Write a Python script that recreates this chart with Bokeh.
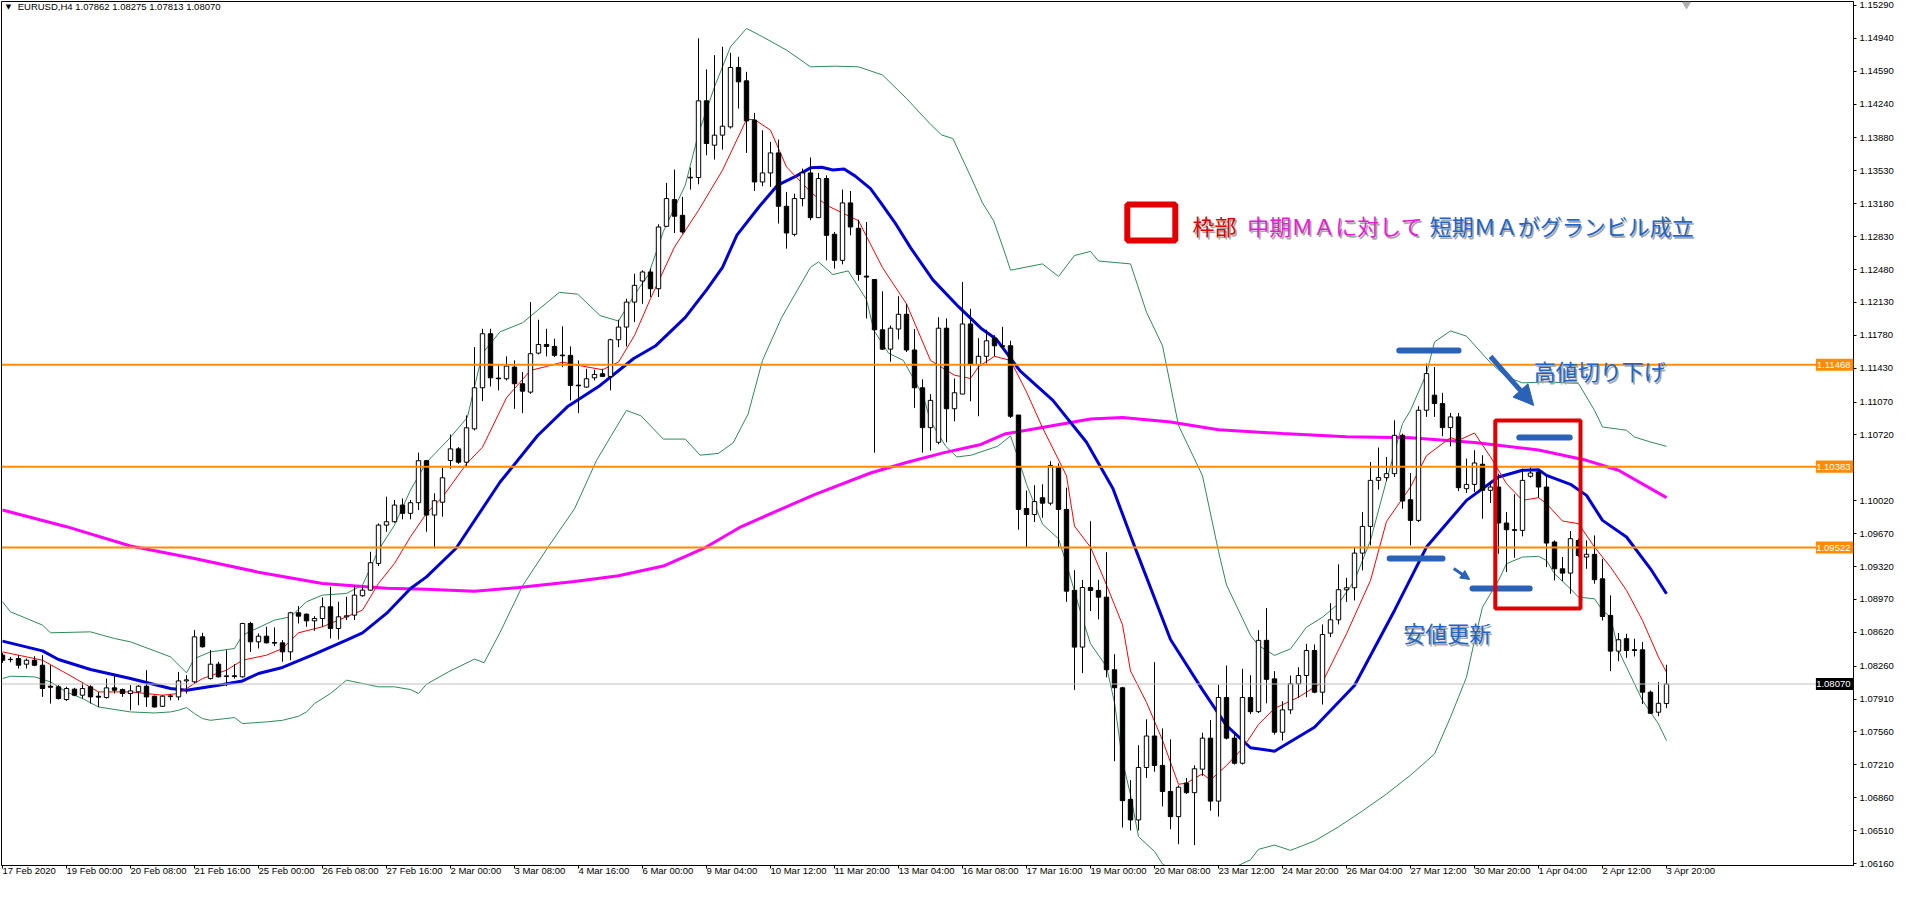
from bokeh.plotting import figure
from bokeh.models import (Range1d, FixedTicker, NumeralTickFormatter, Label, Span,
                          BoxAnnotation, Arrow, NormalHead, ColumnDataSource)
from bokeh.embed import file_html
from bokeh.resources import INLINE

# ---------------- DATA ----------------
opens = [1.08377,1.08330,1.08341,1.08281,1.08323,1.08270,1.08047,1.08040,1.07905,1.08015,
         1.07951,1.08040,1.07940,1.07926,1.08029,1.08011,1.07969,1.07987,1.08047,1.07940,
         1.07833,1.07936,1.07933,1.08103,1.08093,1.08572,1.08128,1.08281,1.08150,1.08157,
         1.08146,1.08714,1.08519,1.08579,1.08512,1.08508,1.08412,1.08828,1.08813,1.08742,
         1.08767,1.08892,1.08661,1.08785,1.08803,1.09009,1.09069,1.09353,1.09761,1.09797,
         1.09974,1.09886,1.09999,1.10446,1.09868,1.10004,1.10448,1.10572,1.10430,1.10785,
         1.11222,1.11797,1.11325,1.11318,1.11442,1.11265,1.11176,1.11591,1.11683,1.11662,
         1.11570,1.11567,1.11250,1.11229,1.11328,1.11371,1.11343,1.11733,1.11868,1.12134,
         1.12358,1.12454,1.12276,1.12940,1.13224,1.13057,1.13455,1.13459,1.14275,1.13803,
         1.13910,1.13998,1.14630,1.14488,1.14069,1.13412,1.13508,1.13721,1.13153,1.12855,
         1.13235,1.13508,1.13032,1.13448,1.12855,1.12578,1.13189,1.12919,1.12410,1.12374,
         1.11839,1.11633,1.11847,1.12004,1.11624,1.11222,1.10798,1.10642,1.11856,1.10999,
         1.11155,1.11901,1.11468,1.11557,1.11749,1.11669,1.11669,1.10932,1.09937,1.09874,
         1.10052,1.09994,1.10383,1.09928,1.09067,1.08463,1.09097,1.09066,1.08994,1.08222,
         1.08030,1.06842,1.06624,1.07182,1.07517,1.07204,1.06927,1.06659,1.07016,1.06914,
         1.07164,1.07494,1.06824,1.07927,1.07494,1.07227,1.07927,1.07776,1.08535,1.08125,
         1.07557,1.07795,1.08072,1.08160,1.08427,1.07983,1.08611,1.08753,1.09073,1.09094,
         1.09463,1.09747,1.10237,1.10266,1.10308,1.10716,1.10031,1.09811,1.10983,1.11143,
         1.11054,1.10798,1.10912,1.10148,1.10194,1.10408,1.10131,1.10166,1.09783,1.09712,
         1.09705,1.10280,1.10326,1.10166,1.09581,1.09296,1.09250,1.09598,1.09421,1.09450,
         1.09190,1.08800,1.08420,1.08552,1.08435,1.08434,1.07983,1.07770,1.07862]
highs = [1.08402,1.08359,1.08377,1.08341,1.08366,1.08377,1.08270,1.08057,1.08040,1.08029,
         1.08082,1.08057,1.07986,1.08128,1.08164,1.08022,1.08058,1.08058,1.08217,1.07947,
         1.07951,1.07962,1.08199,1.08164,1.08643,1.08615,1.08430,1.08306,1.08430,1.08281,
         1.08721,1.08732,1.08607,1.08679,1.08672,1.08537,1.08838,1.08899,1.08820,1.08792,
         1.08991,1.09104,1.08945,1.08998,1.09122,1.09112,1.09477,1.09779,1.10063,1.10028,
         1.10045,1.10028,1.10532,1.10454,1.10099,1.10370,1.10725,1.10590,1.10928,1.11655,
         1.11850,1.11850,1.11460,1.11556,1.11513,1.11389,1.12134,1.11946,1.11850,1.11744,
         1.11875,1.11662,1.11513,1.11424,1.11414,1.11424,1.11744,1.11946,1.12170,1.12436,
         1.12472,1.12489,1.12962,1.13402,1.13544,1.13253,1.13565,1.14939,1.14609,1.14761,
         1.14850,1.14786,1.14744,1.14584,1.14147,1.13962,1.13838,1.13863,1.13306,1.13288,
         1.13554,1.13672,1.13508,1.13483,1.12880,1.13331,1.13316,1.13010,1.12986,1.12380,
         1.12249,1.11883,1.12196,1.12115,1.11847,1.11312,1.11155,1.11973,1.11959,1.11321,
         1.12348,1.12062,1.11749,1.11839,1.11781,1.11870,1.11722,1.10932,1.10128,1.10186,
         1.10195,1.10441,1.10418,1.10159,1.09281,1.09178,1.09803,1.09178,1.09472,1.08387,
         1.08040,1.07047,1.07419,1.07695,1.08302,1.07597,1.07481,1.06990,1.07070,1.07204,
         1.07552,1.07686,1.08061,1.08267,1.07552,1.08231,1.08164,1.08642,1.08878,1.08207,
         1.07887,1.08160,1.08249,1.08498,1.08491,1.08704,1.08931,1.09343,1.09200,1.09527,
         1.09900,1.10433,1.10586,1.10486,1.10876,1.10734,1.10315,1.11026,1.11480,1.11444,
         1.11168,1.10954,1.10954,1.10468,1.10557,1.10504,1.10220,1.10308,1.09900,1.10090,
         1.10362,1.10379,1.10344,1.10280,1.09598,1.09421,1.09698,1.09616,1.09598,1.09651,
         1.09403,1.09013,1.08612,1.08605,1.08552,1.08516,1.08001,1.08090,1.08275]
lows = [1.08295,1.08302,1.08235,1.08235,1.08260,1.07933,1.07862,1.07905,1.07890,1.07940,
        1.07915,1.07862,1.07826,1.07915,1.07969,1.07933,1.07791,1.07844,1.07826,1.07819,
        1.07826,1.07897,1.07897,1.07969,1.08075,1.08458,1.08118,1.08140,1.08047,1.08128,
        1.08139,1.08412,1.08448,1.08501,1.08473,1.08306,1.08323,1.08714,1.08679,1.08636,
        1.08679,1.08554,1.08544,1.08750,1.08750,1.08998,1.09062,1.09325,1.09690,1.09786,
        1.09822,1.09822,1.09921,1.09690,1.09513,1.09850,1.10360,1.10413,1.10377,1.10768,
        1.11080,1.11236,1.11194,1.11300,1.10998,1.10952,1.11158,1.11577,1.11556,1.11549,
        1.11442,1.11087,1.10952,1.11222,1.11300,1.11336,1.11194,1.11655,1.11662,1.11921,
        1.12116,1.12188,1.12188,1.12933,1.12869,1.12862,1.13331,1.13387,1.13696,1.13650,
        1.13757,1.13980,1.14193,1.13721,1.13316,1.13366,1.13359,1.12969,1.12702,1.12834,
        1.13153,1.13004,1.13032,1.12578,1.12489,1.12535,1.12844,1.12361,1.11959,1.10531,
        1.11624,1.11499,1.11736,1.11602,1.11008,1.10531,1.10553,1.10620,1.10642,1.10865,
        1.11155,1.11079,1.10919,1.11481,1.11557,1.11646,1.10901,1.09713,1.09526,1.09794,
        1.09839,1.09972,1.09526,1.08945,1.08008,1.08186,1.08847,1.08758,1.08142,1.07249,
        1.06543,1.06512,1.06512,1.07071,1.07137,1.06767,1.06525,1.06365,1.06900,1.06356,
        1.07093,1.06722,1.06659,1.07480,1.07213,1.07213,1.07749,1.07762,1.07865,1.07532,
        1.07468,1.07752,1.07923,1.07930,1.07972,1.07852,1.08569,1.08704,1.08944,1.08959,
        1.09279,1.09545,1.10138,1.10231,1.10273,1.09935,1.09545,1.09793,1.10912,1.10912,
        1.10706,1.10599,1.10124,1.10102,1.10113,1.09829,1.09996,1.09456,1.09261,1.09414,
        1.09641,1.10266,1.10053,1.09314,1.09172,1.09165,1.09030,1.09421,1.09296,1.09137,
        1.08746,1.08207,1.08313,1.08349,1.08363,1.07858,1.07752,1.07727,1.07813]
closes = [1.08323,1.08333,1.08270,1.08323,1.08270,1.08022,1.08036,1.07915,1.08022,1.07951,
          1.08022,1.07933,1.07930,1.08029,1.08004,1.07969,1.07997,1.08047,1.07933,1.07826,
          1.07940,1.07944,1.08103,1.08114,1.08572,1.08466,1.08281,1.08146,1.08157,1.08150,
          1.08714,1.08519,1.08579,1.08508,1.08505,1.08412,1.08828,1.08792,1.08742,1.08767,
          1.08892,1.08661,1.08785,1.08796,1.09016,1.09069,1.09360,1.09761,1.09797,1.09974,
          1.09886,1.09999,1.10446,1.09868,1.10020,1.10264,1.10572,1.10430,1.10796,1.11222,
          1.11797,1.11328,1.11318,1.11453,1.11265,1.11186,1.11584,1.11683,1.11662,1.11567,
          1.11563,1.11247,1.11243,1.11318,1.11364,1.11343,1.11733,1.11868,1.12134,1.12312,
          1.12454,1.12276,1.12933,1.13235,1.13047,1.12880,1.13462,1.14275,1.13821,1.13910,
          1.14005,1.14630,1.14477,1.14062,1.13412,1.13508,1.13721,1.13153,1.12869,1.13235,
          1.13508,1.13032,1.13448,1.12844,1.12578,1.13189,1.12933,1.12428,1.12400,1.11839,
          1.11633,1.11856,1.12004,1.11624,1.11222,1.10798,1.11088,1.11856,1.10999,1.11169,
          1.11901,1.11468,1.11557,1.11722,1.11669,1.11660,1.10919,1.09928,1.09874,1.10011,
          1.09994,1.10396,1.09928,1.09058,1.08463,1.09097,1.09066,1.08994,1.08222,1.08030,
          1.06829,1.06624,1.07182,1.07517,1.07204,1.06927,1.06659,1.06972,1.06914,1.07168,
          1.07494,1.06824,1.07927,1.07494,1.07227,1.07927,1.07776,1.08535,1.08120,1.07557,
          1.07795,1.08072,1.08160,1.08427,1.07983,1.08597,1.08753,1.09073,1.09094,1.09463,
          1.09747,1.10237,1.10266,1.10308,1.10716,1.10017,1.09811,1.10983,1.11373,1.11054,
          1.10798,1.10912,1.10159,1.10194,1.10422,1.10131,1.10166,1.09783,1.09712,1.09705,
          1.10237,1.10315,1.10166,1.09570,1.09296,1.09250,1.09616,1.09438,1.09450,1.09180,
          1.08789,1.08420,1.08541,1.08427,1.08427,1.07983,1.07759,1.07865,1.08070]

# short MA (red)
red_x = [0,3,5,8,12,16,20,22,25,28,30,33,35,37,40,43,45,47,49,51,53,55,58,60,63,66,68,70,72,75,
         77,79,81,84,87,90,93,94,96,98,101,103,107,110,113,116,119,121,122,124,126,128,130,133,134,
         136,138,140,141,143,145,147,148,150,151,153,155,157,159,162,165,168,171,173,176,178,181,182,
         184,186,188,190,192,193,195,197,199,201,203,205,207,208]
red_y = [1.08412,1.08359,1.08323,1.08182,1.07986,1.07986,1.07951,1.07969,1.08128,1.08217,1.08323,
         1.08377,1.08448,1.08615,1.08679,1.08785,1.08856,1.09140,1.09353,1.09637,1.09886,1.10060,
         1.10413,1.10590,1.11116,1.11407,1.11449,1.11495,1.11460,1.11414,1.11495,1.11779,1.12170,
         1.12720,1.13110,1.13537,1.14076,1.14076,1.13963,1.13572,1.13306,1.13164,1.13000,1.12500,
         1.12115,1.11513,1.11356,1.11321,1.11446,1.11557,1.11513,1.11178,1.10798,1.10285,1.09749,
         1.09526,1.09124,1.08700,1.08209,1.07874,1.07472,1.07003,1.07016,1.07115,1.07048,1.07204,
         1.07383,1.07640,1.07810,1.07930,1.08090,1.08604,1.09172,1.09800,1.10166,1.10500,1.10692,
         1.10663,1.10741,1.10486,1.10202,1.10024,1.10053,1.09989,1.09804,1.09776,1.09527,1.09314,
         1.09066,1.08746,1.08356,1.08196]

# middle MA (blue)
blue_x = [0,5,7,11,16,21,23,27,30,32,35,39,43,45,48,51,53,56.7,62.2,66.9,70.6,74.7,77.5,78.9,81.6,
          85.35,88.1,90,91.8,94.6,96.9,99.2,101,102.4,103.8,105.2,106.6,108.5,109.8,111.7,113.5,
          116.3,119.5,122.3,124.2,127.2,131.3,135.5,138.8,141.75,146,150,153,156,159,164,169,174,
          178,183,187,190,192,193,196,198,200,203,206,208]
blue_y = [1.08526,1.08423,1.08331,1.08224,1.08128,1.08022,1.08004,1.08057,1.08103,1.08182,1.08246,
          1.08387,1.08537,1.08615,1.08821,1.09087,1.09210,1.09515,1.10219,1.10714,1.11019,1.11247,
          1.11438,1.11533,1.11666,1.11971,1.12275,1.12504,1.12846,1.13151,1.13379,1.13474,1.13562,
          1.13569,1.13539,1.13550,1.13474,1.13341,1.13189,1.12960,1.12713,1.12370,1.12085,1.11856,
          1.11742,1.11401,1.11088,1.10642,1.10151,1.09481,1.08543,1.08008,1.07628,1.07392,1.07355,
          1.07610,1.08054,1.08853,1.09527,1.10024,1.10273,1.10344,1.10351,1.10290,1.10195,1.10077,
          1.09811,1.09634,1.09296,1.09030]

# long MA (magenta)
mag_x = [0,8,16,24,32,40,48,53,59,64.5,71.5,77,82.6,87.7,92.3,96.9,101.5,108.5,113.1,117.7,122.3,
         125.4,128,136,140,146,152,160,168,176,184,192,198,202,208]
mag_y = [1.09921,1.09744,1.09538,1.09406,1.09260,1.09140,1.09090,1.09077,1.09058,1.09096,1.09161,
         1.09222,1.09325,1.09515,1.09743,1.09915,1.10086,1.10315,1.10429,1.10532,1.10619,1.10733,
         1.10770,1.10890,1.10905,1.10857,1.10776,1.10735,1.10700,1.10690,1.10640,1.10560,1.10450,
         1.10344,1.10053]

# Bollinger upper / lower (green)
bbu_x = [0,1,5,6,11,14,16,21,23,24,26,29,30,34,36,38,40,43,45,47,49,51,53,55.8,58.1,60,62.2,65,
         66.9,69.6,71.9,74.7,77,78.9,80.75,82.6,85.35,87,89,91,93,95,98,101,104,107,110,113,116,
         117.4,118.8,121.1,122.5,123.9,125.3,126,130,132,134,136,137,141,143,145,147,150,152,153,
         156,157,159,161,163,165,167,169,171,173,175,176,178,179,181,183,186,188,190,193,197,199,
         200,203,204,206,208]
bbu_y = [1.08945,1.08838,1.08697,1.08615,1.08625,1.08554,1.08519,1.08359,1.08189,1.08341,1.08412,
         1.08448,1.08590,1.08750,1.08785,1.08945,1.09016,1.09034,1.09122,1.09495,1.09761,1.10134,
         1.10429,1.10676,1.10905,1.11590,1.11818,1.11913,1.12047,1.12237,1.12218,1.11990,1.11932,
         1.12199,1.12427,1.12884,1.13379,1.13927,1.14424,1.14850,1.15045,1.14957,1.14815,1.14637,
         1.14644,1.14637,1.14550,1.14300,1.14026,1.13912,1.13874,1.13455,1.13189,1.12998,1.12656,
         1.12473,1.12540,1.12406,1.12629,1.12673,1.12571,1.12540,1.12026,1.11669,1.10821,1.10285,
         1.09481,1.09124,1.08588,1.08480,1.08374,1.08444,1.08675,1.08781,1.08924,1.09172,1.09598,
         1.10237,1.10840,1.10982,1.11373,1.11710,1.11827,1.11771,1.11487,1.11338,1.11274,1.11285,
         1.11267,1.10982,1.10805,1.10770,1.10698,1.10645,1.10599]
bbl_x = [0,1,4,6,8,10,12,16,19,21,22,23,24,25,26,29,30,33,35,37,38,39,41,43,45,47,49,51,52,53,
         55.8,59,60.2,62.2,65,68.25,71.5,74.25,76.1,78,79.8,82.6,85.35,87.2,89.5,91.35,93.2,95,97.4,
         101,102,103.8,105.7,108,108.9,110.75,112.6,115.1,116,117.9,119.3,121.1,124.4,126,127,128,
         130,132,133,135,136,138,139,140,141,142,144,145,147,150,153,156,157,159,161,164,167,170,
         173,176,178,179,181,183,184,185,187,188,190,192,193,194,196,197,199,200,201,202,203,205,
         207,208]
bbl_y = [1.08128,1.08153,1.08146,1.08093,1.07986,1.07915,1.07826,1.07773,1.07762,1.07773,1.07791,
         1.07819,1.07755,1.07702,1.07684,1.07713,1.07649,1.07667,1.07684,1.07727,1.07773,1.07862,
         1.07969,1.08111,1.08075,1.08040,1.08040,1.08011,1.07969,1.08068,1.08202,1.08335,1.08297,
         1.08620,1.09115,1.09534,1.09934,1.10448,1.10714,1.10981,1.10924,1.10676,1.10676,1.10505,
         1.10524,1.10638,1.10943,1.11514,1.11971,1.12504,1.12561,1.12427,1.12465,1.12161,1.11837,
         1.11590,1.11514,1.11133,1.10867,1.10600,1.10486,1.10505,1.10600,1.10709,1.10463,1.10195,
         1.09771,1.09615,1.09347,1.08767,1.08499,1.08254,1.07874,1.07249,1.06892,1.06446,1.06289,
         1.06155,1.06050,1.06000,1.06080,1.06200,1.06311,1.06356,1.06300,1.06400,1.06550,1.06720,
         1.06900,1.07100,1.07250,1.07326,1.07717,1.08143,1.08533,1.08888,1.09172,1.09350,1.09421,
         1.09428,1.09385,1.09243,1.09083,1.08994,1.08977,1.08853,1.08781,1.08427,1.08249,1.07894,
         1.07645,1.07468]

# horizontal levels and axis labels
levels = [1.11468, 1.10383, 1.09522]
bid = 1.08070
yticks = [1.15290,1.14940,1.14590,1.14240,1.13880,1.13530,1.13180,1.12830,1.12480,1.12130,
          1.11780,1.11430,1.11070,1.10720,1.10020,1.09670,1.09320,1.08970,1.08620,
          1.08260,1.07910,1.07560,1.07210,1.06860,1.06510,1.06160]
xtick_labels = ["17 Feb 2020","19 Feb 00:00","20 Feb 08:00","21 Feb 16:00","25 Feb 00:00",
                "26 Feb 08:00","27 Feb 16:00","2 Mar 00:00","3 Mar 08:00","4 Mar 16:00",
                "6 Mar 00:00","9 Mar 04:00","10 Mar 12:00","11 Mar 20:00","13 Mar 04:00",
                "16 Mar 08:00","17 Mar 16:00","19 Mar 00:00","20 Mar 08:00","23 Mar 12:00",
                "24 Mar 20:00","26 Mar 04:00","27 Mar 12:00","30 Mar 20:00","1 Apr 04:00",
                "2 Apr 12:00","3 Apr 20:00"]
title_text = "EURUSD,H4  1.07862 1.08275 1.07813 1.08070"

# ---------------- FIGURE ----------------
JP = "Noto Sans CJK JP"
AX = "Liberation Sans"
YR = (1.06139, 1.15332)
XR = (-0.125, 231.375)

p = figure(frame_width=1852, frame_height=864, x_range=Range1d(*XR), y_range=Range1d(*YR),
           output_backend="svg", toolbar_location=None, tools="", y_axis_location="right",
           min_border_left=1, min_border_top=1, min_border_right=0, min_border_bottom=0,
           background_fill_color="white", border_fill_color="white")
p.grid.visible = False
p.outline_line_color = "black"
p.outline_line_width = 1

p.yaxis.ticker = FixedTicker(ticks=yticks)
p.yaxis.formatter = NumeralTickFormatter(format="0.00000")
xt = list(range(0, 8 * len(xtick_labels), 8))
p.xaxis.ticker = FixedTicker(ticks=xt)
p.xaxis.major_label_overrides = {t: s for t, s in zip(xt, xtick_labels)}
for ax in (p.xaxis[0], p.yaxis[0]):
    ax.axis_line_color = "black"
    ax.major_tick_line_color = "black"
    ax.major_tick_out = 3
    ax.major_tick_in = 0
    ax.minor_tick_line_color = None
    ax.major_label_text_font = AX
    ax.major_label_text_font_size = "9.5px"
    ax.major_label_text_color = "black"
    ax.major_label_standoff = 3
p.xaxis.major_label_orientation = -0.0001
p.xaxis.major_label_standoff = 2

for lv in levels:
    p.add_layout(Span(location=lv, dimension="width", line_color="#ff8c00", line_width=2))
p.add_layout(Span(location=bid, dimension="width", line_color="#c0c0c0", line_width=1))

p.line(bbu_x, bbu_y, line_color="#2e8b57", line_width=1)
p.line(bbl_x, bbl_y, line_color="#2e8b57", line_width=1)
p.line(mag_x, mag_y, line_color="#ff00ff", line_width=3)
p.line(blue_x, blue_y, line_color="#0000d8", line_width=3)
p.line(red_x, red_y, line_color="#ff0000", line_width=1)

n = len(opens)
idx = list(range(n))
top = [max(o, c) for o, c in zip(opens, closes)]
bot = [min(o, c) for o, c in zip(opens, closes)]
fill = ["white" if c >= o else "black" for o, c in zip(opens, closes)]
src = ColumnDataSource(dict(x=idx, o=opens, h=highs, l=lows, c=closes, top=top, bot=bot, fill=fill))
p.segment(x0="x", y0="l", x1="x", y1="h", source=src, line_color="black", line_width=1)
p.vbar(x="x", top="top", bottom="bot", width=0.55, source=src, fill_color="fill",
       line_color="black", line_width=1)

# price tags at the right edge of the chart area
TAG_W = 4.7     # in bars
TAG_H = 0.00064 # half height in price
for lv, col in [(levels[0], "#ff8c00"), (levels[1], "#ff8c00"), (levels[2], "#ff8c00"), (bid, "black")]:
    p.add_layout(BoxAnnotation(left=XR[1] - TAG_W, right=XR[1], bottom=lv - TAG_H, top=lv + TAG_H,
                               fill_color=col, fill_alpha=1, line_alpha=0))
    p.add_layout(Label(x=XR[1], y=lv, text=f"{lv:.5f}", x_offset=-3, text_align="right",
                       text_baseline="middle", text_color="white", text_font=AX,
                       text_font_size="9.5px"))

p.add_layout(Label(x=0.4, y=YR[1], y_offset=-5, text="\u25bc", text_baseline="middle",
                   text_font="DejaVu Sans", text_font_size="7px", text_color="black"))
p.add_layout(Label(x=1.9, y=YR[1], y_offset=-5, text=title_text, text_baseline="middle",
                   text_font=AX, text_font_size="9.5px", text_color="black"))
p.scatter([210.5], [YR[1] - 0.0003], marker="inverted_triangle", size=8,
          fill_color="#b0b0b0", line_color="#b0b0b0")

# legend-style box
p.add_layout(BoxAnnotation(left=140.9, right=146.9, bottom=1.12768, top=1.13151,
                           fill_color="#9a9a9a", fill_alpha=0.7, line_alpha=0))
p.add_layout(BoxAnnotation(left=140.6, right=146.6, bottom=1.12790, top=1.13173,
                           fill_color="white", fill_alpha=1, line_color="#e00000",
                           line_alpha=1, line_width=6))

def jtext(x, y, t, color, size="22px"):
    p.add_layout(Label(x=x, y=y, text=t, x_offset=1.5, y_offset=-1.5, text_baseline="middle",
                       text_font=JP, text_font_size=size, text_color="#a8a8a8"))
    p.add_layout(Label(x=x, y=y, text=t, text_baseline="middle", text_font=JP,
                       text_font_size=size, text_color=color))

BLUE_T = "#1f64c8"
jtext(148.75, 1.12949, "枠部", "#e00000")
jtext(155.6, 1.12949, "中期ＭＡに対して", "#e81ad8")
jtext(178.4, 1.12949, "短期ＭＡがグランビル成立", BLUE_T)
jtext(191.4, 1.11406, "高値切り下げ", BLUE_T)
jtext(175.1, 1.08619, "安値更新", BLUE_T)

# red frame
p.add_layout(BoxAnnotation(left=186.6, right=197.25, bottom=1.08874, top=1.10874,
                           fill_alpha=0, line_color="#e00000", line_alpha=1, line_width=4))

MARK = "#2a62b8"
p.segment(x0=[174.6, 189.6, 173.4, 183.75], y0=[1.11619, 1.10694, 1.09406, 1.09087],
          x1=[182.0, 195.9, 180.0, 190.9], y1=[1.11619, 1.10694, 1.09406, 1.09087],
          line_color=MARK, line_width=6, line_cap="round")

p.add_layout(Arrow(x_start=186.0, y_start=1.11555, x_end=191.4, y_end=1.11034,
                   line_color=MARK, line_width=5,
                   end=NormalHead(size=20, fill_color=MARK, line_color=MARK)))
p.add_layout(Arrow(x_start=181.4, y_start=1.09300, x_end=183.4, y_end=1.09183,
                   line_color=MARK, line_width=3,
                   end=NormalHead(size=9, fill_color=MARK, line_color=MARK)))

open("out.html", "w").write(file_html(p, INLINE))
